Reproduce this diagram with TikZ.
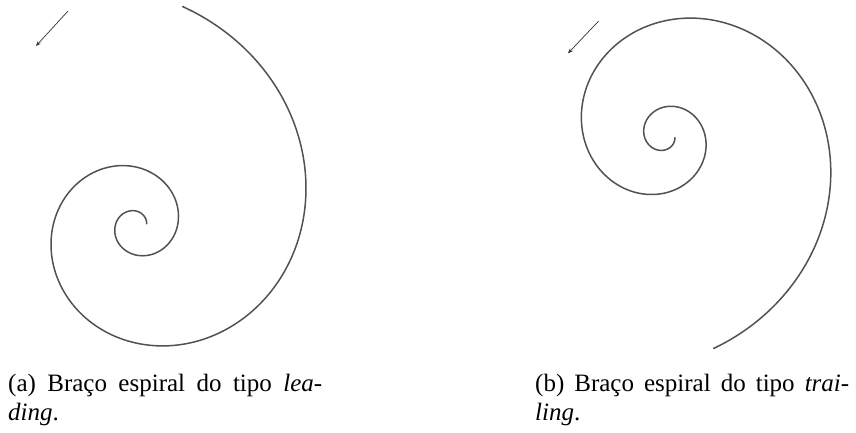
\documentclass[tikz,border=0pt]{standalone}
\usepackage{fontspec}
\setmainfont{Liberation Serif}
\usetikzlibrary{arrows.meta, positioning}

\begin{document}
\begin{tikzpicture}[
  x=1pt, y=-1pt,
  >={Stealth[length=5pt,width=4pt]},
  arm/.style={line width=1.5pt, draw=black!68, line cap=round},
  rot/.style={->, line width=0.7pt, black!80},
  capt/.style={font=\fontsize{25}{29}\selectfont, anchor=base west, inner sep=0pt}
]
\useasboundingbox (0,0) rectangle (856,433);

% (a) leading
\draw[arm] plot[domain=10:798, samples=320, smooth, variable=\t]
  ({136+20.75*pow(2,(\t-180)/180)*cos(\t)}, {225.7-20.75*pow(2,(\t-180)/180)*sin(\t)});
\coordinate (rota1) at (68,11);
\coordinate (rota2) at (36,46);
\draw[rot] (rota1) -- (rota2);

\node[capt] (capa1) at (8,391.5) {\makebox[314pt][s]{(a) Braço espiral do tipo \textit{lea-}}};
\node[capt] (capa2) at (8,420) {\textit{ding}.};

% (b) trailing
\draw[arm] plot[domain=10:797, samples=320, smooth, variable=\t]
  ({664.5+20.3*pow(2,(\t-180)/180)*cos(\t)}, {135.7+20.3*pow(2,(\t-180)/180)*sin(\t)});
\coordinate (rotb1) at (598.7,21);
\coordinate (rotb2) at (568,53.3);
\draw[rot] (rotb1) -- (rotb2);

\node[capt] (capb1) at (535,391.5) {\makebox[314pt][s]{(b) Braço espiral do tipo \textit{trai-}}};
\node[capt] (capb2) at (535,420) {\textit{ling}.};

\end{tikzpicture}
\end{document}
